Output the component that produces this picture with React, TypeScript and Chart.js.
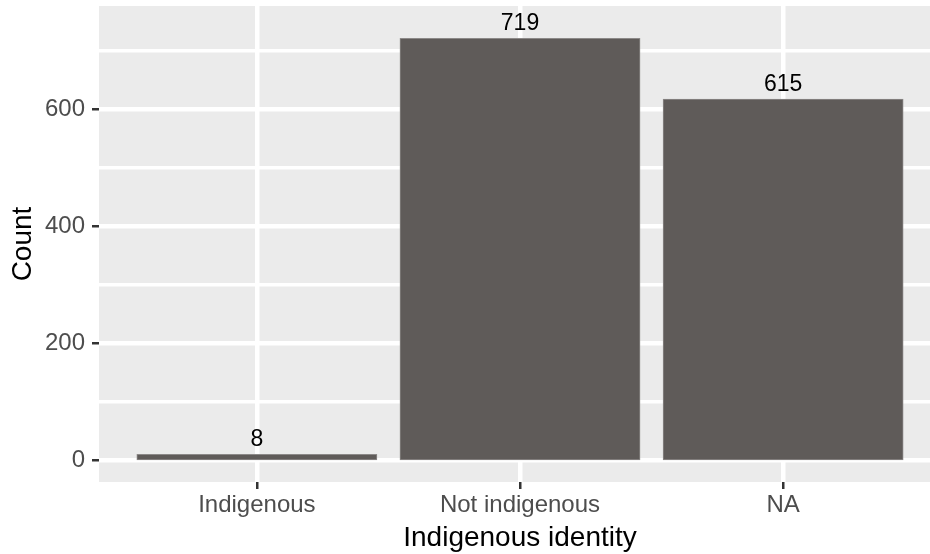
import React, { useEffect, useRef } from 'react';
import { Chart, registerables } from 'chart.js';

Chart.register(...registerables);

// ---- data ----
const categories = ['Indigenous', 'Not indigenous', 'NA'];
const counts = [8, 719, 615];
const yGridValues = [0, 100, 200, 300, 400, 500, 600, 700];
const yLabelValues = [0, 200, 400, 600];
const xTitle = 'Indigenous identity';
const yTitle = 'Count';

const FONT = "'Liberation Sans', Arial, Helvetica, sans-serif";

const panelBg = {
  id: 'panelBg',
  beforeDraw(chart: any) {
    const { ctx, chartArea } = chart;
    const { left, top, right, bottom } = chartArea;
    ctx.save();
    ctx.fillStyle = '#EBEBEB';
    ctx.fillRect(left, top, right - left, bottom - top);
    ctx.restore();
  },
};

const barLabels = {
  id: 'barLabels',
  afterDatasetsDraw(chart: any) {
    const { ctx } = chart;
    const meta = chart.getDatasetMeta(0);
    ctx.save();
    ctx.font = `23px ${FONT}`;
    ctx.fillStyle = '#000000';
    ctx.textAlign = 'center';
    ctx.textBaseline = 'alphabetic';
    meta.data.forEach((bar: any, i: number) => {
      ctx.fillText(String(counts[i]), bar.x, bar.y - 10);
    });
    ctx.restore();
  },
};

export default function App() {
  const ref = useRef<HTMLCanvasElement | null>(null);

  useEffect(() => {
    document.body.style.margin = '0';
    const canvas = ref.current;
    if (!canvas) return;
    const chart = new Chart(canvas, {
      type: 'bar',
      data: {
        datasets: [
          {
            data: counts.map((c, i) => ({ x: i, y: c })),
            backgroundColor: '#5F5B59',
            borderColor: '#8C8988',
            borderWidth: 1,
            borderSkipped: false,
            inflateAmount: 2,
            barPercentage: 0.9,
            categoryPercentage: 1,
          } as any,
        ],
      },
      options: {
        responsive: false,
        animation: false,
        devicePixelRatio: 1,
        layout: { padding: { top: 6, right: 0, left: 0, bottom: 0 } },
        plugins: {
          legend: { display: false },
          tooltip: { enabled: false },
        },
        scales: {
          x: {
            type: 'linear',
            offset: false,
            min: -0.6,
            max: 2.6,
            afterBuildTicks(scale: any) {
              scale.ticks = categories.map((_, i) => ({ value: i }));
            },
            afterFit(scale: any) {
              scale.height = 72;
              scale.paddingLeft = 0;
              scale.paddingRight = 0;
            },
            ticks: {
              autoSkip: false,
              maxRotation: 0,
              padding: 2,
              color: '#4D4D4D',
              font: { family: FONT, size: 24 },
              callback: (v: any) => categories[Number(v)] ?? '',
            },
            grid: {
              offset: false,
              color: '#FFFFFF',
              lineWidth: 4.5,
              drawTicks: true,
              tickLength: 7,
              tickColor: '#333333',
              tickWidth: 2.5,
            },
            border: { display: false },
            title: {
              display: true,
              text: xTitle,
              color: '#000000',
              font: { family: FONT, size: 28, lineHeight: 1 },
              padding: { top: 0, bottom: 2 },
            },
          },
          y: {
            type: 'linear',
            min: -36.6,
            max: 777,
            afterBuildTicks(scale: any) {
              scale.ticks = yGridValues.map((v) => ({ value: v }));
            },
            afterFit(scale: any) {
              scale.width = 99;
              scale.paddingTop = 0;
              scale.paddingBottom = 0;
            },
            ticks: {
              autoSkip: false,
              padding: 7,
              color: '#4D4D4D',
              font: { family: FONT, size: 24 },
              callback: (v: any) => (yLabelValues.includes(Number(v)) ? String(v) : ''),
            },
            grid: {
              color: '#FFFFFF',
              lineWidth: (c: any) => (c.tick && yLabelValues.includes(c.tick.value) ? 4.5 : 3.5),
              drawTicks: true,
              tickLength: 7,
              tickColor: (c: any) =>
                c.tick && yLabelValues.includes(c.tick.value) ? '#333333' : 'rgba(0,0,0,0)',
              tickWidth: 2.5,
            },
            border: { display: false },
            title: {
              display: true,
              text: yTitle,
              color: '#000000',
              font: { family: FONT, size: 28, lineHeight: 1.2 },
              padding: { top: 6, bottom: 0 },
            },
          },
        },
      } as any,
      plugins: [panelBg, barLabels],
    });
    return () => chart.destroy();
  }, []);

  return (
    <div style={{ width: 930, height: 554, overflow: 'hidden', background: '#FFFFFF' }}>
      <canvas ref={ref} width={941} height={554} style={{ display: 'block', width: 941, height: 554 }} />
    </div>
  );
}
